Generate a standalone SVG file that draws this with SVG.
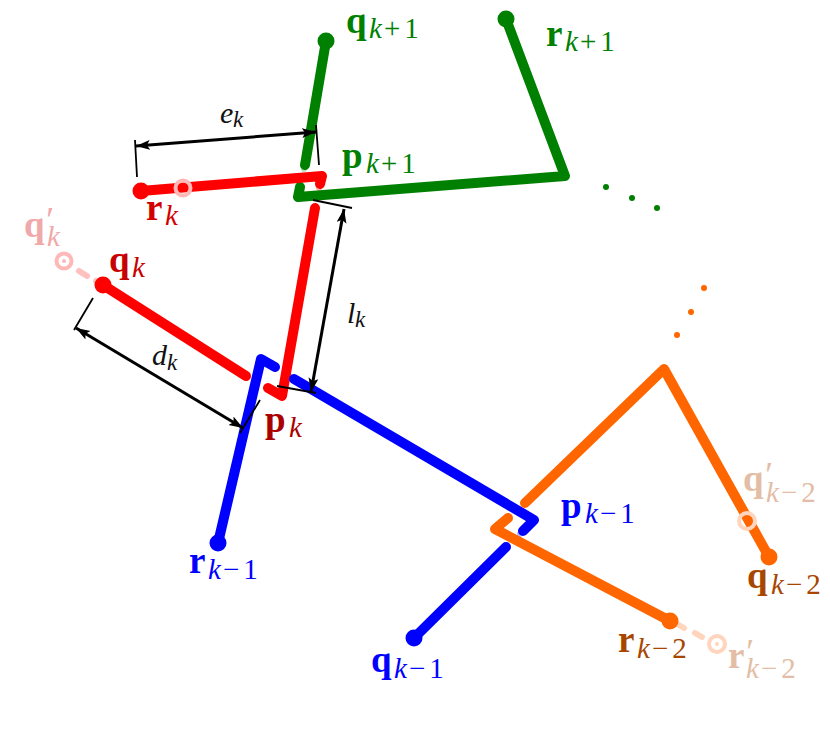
<svg xmlns="http://www.w3.org/2000/svg" width="830" height="747" viewBox="0 0 830 747">
<defs>
<marker id="ah" markerWidth="16" markerHeight="12" refX="14" refY="5" orient="auto-start-reverse" markerUnits="userSpaceOnUse"><path d="M0,0 L14,5 L0,10 L3,5 Z" fill="#000"/></marker>
</defs>
<style>
text{font-family:"Liberation Serif","Times New Roman",serif}
.b{font-weight:bold;font-size:37px}
.s{font-style:italic;font-weight:normal;font-size:29px}
.n{font-style:normal;font-weight:normal;font-size:29px;letter-spacing:4px}
.p{font-style:italic;font-weight:normal;font-size:36px}
.m{font-style:italic;font-size:30px;fill:#111}
.ms{font-size:23px}
.ln{fill:none;stroke-width:10;stroke-linecap:round;stroke-linejoin:round}
.g{stroke:#008000}.r{stroke:#ff0000}.u{stroke:#0000ff}.o{stroke:#ff6600}
.tick{stroke:#000;stroke-width:1.8;fill:none}
.dim{stroke:#000;stroke-width:3;fill:none;marker-start:url(#ah);marker-end:url(#ah)}
.ghost{fill:none;stroke-width:4}
.dash{fill:none;stroke-width:6;stroke-linecap:round}
</style>
<g id="connectors">
<g id="ghost-lines">
<path class="dash" stroke="#ffc0c0" d="M79 271L87 276M96 281L101 284"/>
<path class="dash" stroke="#ffd5bd" d="M677 624L684 628M695 633L702 637"/>
<path class="dash" stroke="#b8e0b8" d="M305 165L304 169M300 186L300 183"/>
<path class="dash" stroke="#ffb8b8" d="M320 184L319 188"/>
<path class="dash" stroke="#b8b8ff" d="M291 377L294 379M523 531L520 534"/>
</g>
<g id="green-lines">
<path class="ln g" d="M326 41L305 165"/>
<path class="ln g" d="M300 187L298 197L565 176L506 19"/>
</g>
<g id="red-lines">
<path class="ln r" d="M141 191L322 176L320 184"/>
<path class="ln r" d="M315 208L282 396L268 388"/>
<path class="ln r" d="M103 285L246 376"/>
</g>
<g id="blue-lines">
<path class="ln u" d="M218 543L261 359L275 367"/>
<path class="ln u" d="M294 379L534 520L523 531"/>
<path class="ln u" d="M414 638L506 547"/>
</g>
<g id="orange-lines">
<path class="ln o" d="M769 557L664 369L525 503"/>
<path class="ln o" d="M508 518L495 529L670 621"/>
</g>
<g id="dimensions">
<path class="tick" d="M135 140L137 177M316 125L319 165M313 200L352 208M277 386L316 393M93 298L74 330M260 400L240 433"/>
<path class="dim" d="M136 146L316 132"/>
<path class="dim" d="M344 209L311 392"/>
<path class="dim" d="M76 328L243 428"/>
</g>
</g>
<g id="node-q-k1"><circle cx="326" cy="41" r="8.5" fill="#008000"/><text x="346" y="33" class="b" fill="#008000">q<tspan class="s" x="369" y="38">k</tspan><tspan class="n" x="384" y="38">+1</tspan></text></g>
<g id="node-r-k1"><circle cx="506" cy="19" r="8.5" fill="#008000"/><text x="546" y="46" class="b" fill="#008000">r<tspan class="s" x="565" y="51">k</tspan><tspan class="n" x="580" y="51">+1</tspan></text></g>
<g id="node-p-k1"><text x="342" y="168" class="b" fill="#008000">p<tspan class="s" x="366" y="173">k</tspan><tspan class="n" x="381" y="173">+1</tspan></text></g>
<g id="dots-green" fill="#008000"><circle cx="606" cy="187" r="3"/><circle cx="632" cy="198" r="3"/><circle cx="657" cy="208" r="3"/></g>
<g id="dots-orange" fill="#ff6600"><circle cx="704" cy="288" r="3"/><circle cx="691" cy="312" r="3"/><circle cx="677" cy="335" r="3"/></g>
<g id="node-r-k-ghost"><circle cx="183" cy="188" r="7.5" class="ghost" stroke="#ffb8b8"/></g>
<g id="node-r-k"><circle cx="141" cy="191" r="8.5" fill="#ff0000"/><text x="146" y="220" class="b" fill="#d40000">r<tspan class="s" x="165" y="225">k</tspan></text></g>
<g id="node-q-k-ghost"><circle cx="64" cy="261" r="7.5" class="ghost" stroke="#ffb8b8"/><circle cx="64" cy="261" r="2" fill="#ffb8b8"/><text x="24" y="237" class="b" fill="#f0a8a8">q<tspan class="p" x="44" y="232">′</tspan><tspan class="s" x="47" y="246">k</tspan></text></g>
<g id="node-q-k"><circle cx="103" cy="285" r="8.5" fill="#ff0000"/><text x="109" y="272" class="b" fill="#c80000">q<tspan class="s" x="132" y="277">k</tspan></text></g>
<g id="node-p-k"><text x="265" y="432" class="b" fill="#aa0000">p<tspan class="s" x="289" y="437">k</tspan></text></g>
<g id="node-r-k1m"><circle cx="218" cy="543" r="8.5" fill="#0000ff"/><text x="189" y="573" class="b" fill="#0000ff">r<tspan class="s" x="208" y="579">k</tspan><tspan class="n" x="223" y="579">−1</tspan></text></g>
<g id="node-q-k1m"><circle cx="414" cy="638" r="8.5" fill="#0000ff"/><text x="371" y="672" class="b" fill="#0000ff">q<tspan class="s" x="394" y="678">k</tspan><tspan class="n" x="409" y="678">−1</tspan></text></g>
<g id="node-p-k1m"><text x="561" y="518" class="b" fill="#0000ff">p<tspan class="s" x="585" y="523">k</tspan><tspan class="n" x="600" y="523">−1</tspan></text></g>
<g id="node-q-k2-ghost"><circle cx="747" cy="521" r="8" class="ghost" stroke="#ffd5bd"/><text x="743" y="491" class="b" fill="#e3bda5">q<tspan class="p" x="763" y="487">′</tspan><tspan class="s" x="766" y="502">k</tspan><tspan class="n" x="781" y="502">−2</tspan></text></g>
<g id="node-q-k2"><circle cx="769" cy="557" r="8.5" fill="#ff6600"/><text x="747" y="588" class="b" fill="#a84600">q<tspan class="s" x="771" y="594">k</tspan><tspan class="n" x="786" y="594">−2</tspan></text></g>
<g id="node-r-k2"><circle cx="670" cy="621" r="8.5" fill="#ff6600"/><text x="618" y="652" class="b" fill="#a84600">r<tspan class="s" x="637" y="658">k</tspan><tspan class="n" x="652" y="658">−2</tspan></text></g>
<g id="node-r-k2-ghost"><circle cx="717" cy="644" r="8" class="ghost" stroke="#ffd5bd"/><circle cx="717" cy="644" r="2" fill="#ffd5bd"/><text x="728" y="668" class="b" fill="#e3bda5">r<tspan class="p" x="744" y="664">′</tspan><tspan class="s" x="746" y="678">k</tspan><tspan class="n" x="761" y="678">−2</tspan></text></g>
<g id="labels-dim">
<text x="220" y="123" class="m">e<tspan class="ms" x="233" y="127">k</tspan></text>
<text x="347" y="323" class="m">l<tspan class="ms" x="355" y="327">k</tspan></text>
<text x="152" y="365" class="m">d<tspan class="ms" x="167" y="370">k</tspan></text>
</g>
</svg>
